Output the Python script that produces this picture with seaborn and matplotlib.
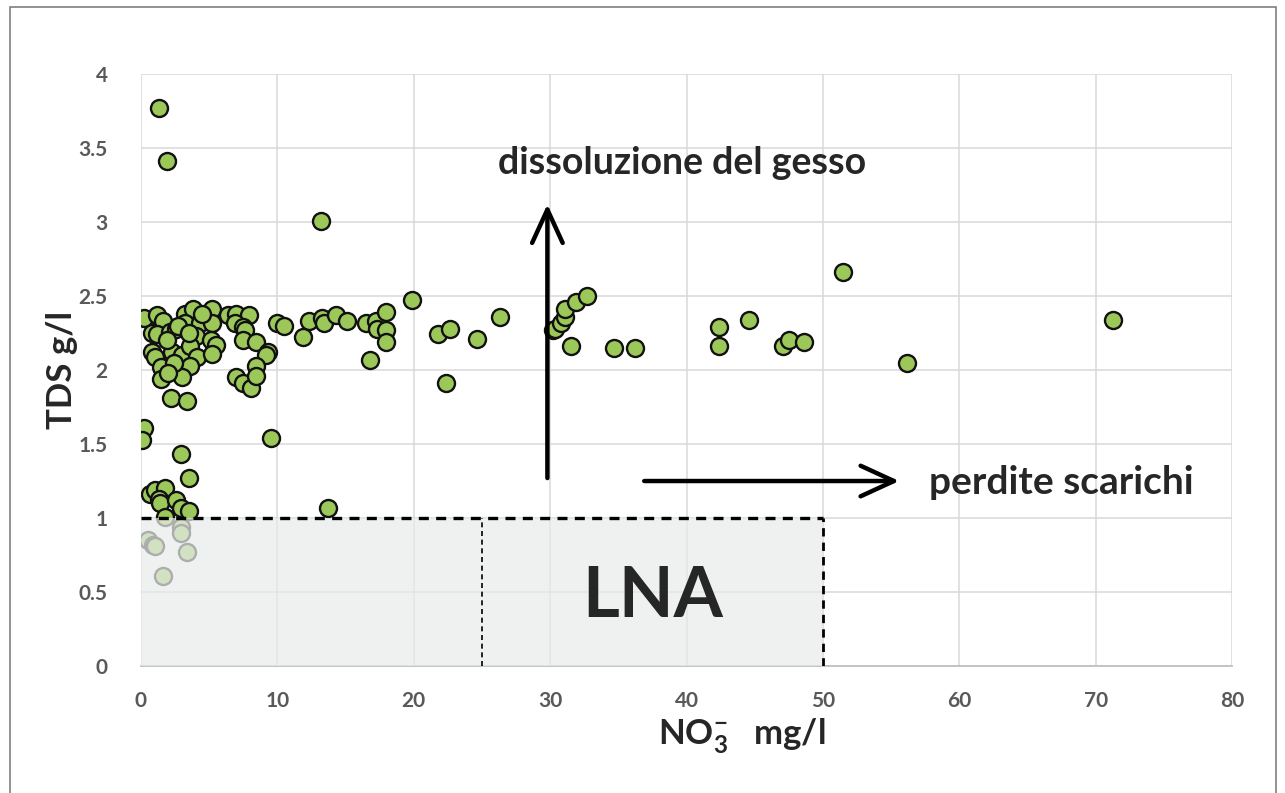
import numpy as np
import pandas as pd
import matplotlib
matplotlib.use("Agg")
import matplotlib.pyplot as plt
import seaborn as sns
from matplotlib.patches import Rectangle

# NO3 (mg/l) vs TDS (g/l)
no3 = [
    # dense cluster near the origin
    0.25, 1.2, 1.6, 0.8, 1.2, 2.1, 2.6, 3.2, 3.8, 3.2, 4.3, 5.2, 5.2, 4.0, 5.1,
    5.5, 0.8, 1.05, 2.25, 3.0, 3.6, 4.1, 5.2, 1.5, 2.9, 3.6, 1.5, 3.0, 2.2, 3.4,
    2.7, 1.9, 3.5, 2.4, 4.5, 2.0,
    # 6 - 20 mg/l
    6.4, 7.0, 7.9, 6.9, 7.5, 7.6, 7.5, 8.4, 9.3, 9.2, 8.4, 7.0, 7.5, 8.1, 8.4,
    9.95, 10.5, 12.3, 11.9, 13.3, 13.4, 14.3, 15.1, 16.5, 17.2, 17.3, 18.0, 18.0,
    18.0, 16.8, 19.85, 13.2,
    # > 20 mg/l
    21.8, 22.65, 24.65, 26.3, 22.4, 30.2, 30.35, 30.8, 31.1, 31.1, 31.9, 32.7,
    31.5, 34.7, 36.2, 42.4, 42.4, 44.6, 47.1, 47.5, 48.6, 51.5, 56.2, 71.3,
    # low TDS
    0.2, 0.1, 9.5, 2.9, 3.5, 0.65, 1.0, 1.75, 1.3, 1.4, 2.6, 2.9, 3.5, 1.75,
    13.7, 2.9, 2.9, 0.55, 0.9, 1.05, 3.4, 1.65,
    # high TDS outliers
    1.3, 1.9,
]
tds = [
    2.35, 2.37, 2.33, 2.25, 2.24, 2.26, 2.28, 2.38, 2.41, 2.32, 2.32, 2.41, 2.32,
    2.23, 2.20, 2.17, 2.12, 2.09, 2.12, 2.10, 2.16, 2.09, 2.11, 2.02, 2.01, 2.03,
    1.94, 1.95, 1.81, 1.79, 2.30, 2.20, 2.25, 2.05, 2.38, 1.98,
    2.37, 2.38, 2.37, 2.32, 2.29, 2.27, 2.20, 2.19, 2.12, 2.10, 2.03, 1.95, 1.91,
    1.88, 1.96, 2.32, 2.30, 2.33, 2.22, 2.35, 2.32, 2.37, 2.33, 2.32, 2.33, 2.28,
    2.27, 2.39, 2.19, 2.07, 2.47, 3.01,
    2.24, 2.28, 2.21, 2.36, 1.91, 2.27, 2.28, 2.32, 2.36, 2.41, 2.46, 2.50, 2.16,
    2.15, 2.15, 2.29, 2.16, 2.34, 2.16, 2.20, 2.19, 2.66, 2.05, 2.34,
    1.61, 1.53, 1.54, 1.43, 1.27, 1.16, 1.19, 1.20, 1.13, 1.10, 1.12, 1.07, 1.05,
    1.01, 1.07, 0.94, 0.90, 0.85, 0.82, 0.81, 0.77, 0.61,
    3.77, 3.41,
]

x_ticks = [0, 10, 20, 30, 40, 50, 60, 70, 80]
y_ticks = [0, 0.5, 1, 1.5, 2, 2.5, 3, 3.5, 4]
y_tick_labels = ["0", "0.5", "1", "1.5", "2", "2.5", "3", "3.5", "4"]

df = pd.DataFrame({"no3": no3, "tds": tds})

sns.set_theme(style="whitegrid")
plt.rcParams["font.family"] = ["Lato", "DejaVu Sans"]
plt.rcParams["mathtext.fontset"] = "custom"
plt.rcParams["mathtext.bf"] = "Lato:bold"
plt.rcParams["mathtext.rm"] = "Lato:bold"
plt.rcParams["mathtext.default"] = "bf"

fig = plt.figure(figsize=(12.85, 7.93), dpi=100)
fig.patch.set_facecolor("white")
ax = fig.add_axes([0.1097, 0.1601, 0.8491, 0.7466])
ax.set_facecolor("white")

sns.scatterplot(data=df, x="no3", y="tds", ax=ax, s=150, color="#9cc85a",
                edgecolor="#111111", linewidth=1.7, zorder=3, legend=False)

# LNA box (drawn over the points, as in the original)
ax.add_patch(Rectangle((0, 0), 50, 1, facecolor="#e9ecec", edgecolor="none",
                       alpha=0.72, zorder=4))
ax.plot([0, 50], [1, 1], color="black", ls=(0, (3, 2.2)), lw=2.4, zorder=5)
ax.plot([50, 50], [0, 1], color="black", ls=(0, (3, 2.2)), lw=2.0, zorder=5)
ax.plot([25, 25], [0, 1], color="black", ls=(0, (3, 2.2)), lw=1.2, zorder=5)
ax.text(37.5, 0.47, "LNA", fontsize=51, fontweight="bold", ha="center",
        va="center", zorder=6)

# arrows and notes
ax.annotate("", xy=(29.8, 3.12), xytext=(29.8, 1.27),
            arrowprops=dict(arrowstyle="->,head_length=1.2,head_width=0.55",
                            lw=3.2, color="black", mutation_scale=20,
                            shrinkA=0, shrinkB=0), zorder=6)
ax.annotate("", xy=(55.6, 1.25), xytext=(36.9, 1.25),
            arrowprops=dict(arrowstyle="->,head_length=1.2,head_width=0.55",
                            lw=3.2, color="black", mutation_scale=20,
                            shrinkA=0, shrinkB=0), zorder=6)
ax.text(26.2, 3.40, "dissoluzione del gesso", fontsize=27, fontweight="bold",
        ha="left", va="center", zorder=6)
ax.text(57.8, 1.24, "perdite scarichi", fontsize=28, fontweight="bold",
        ha="left", va="center", zorder=6)

ax.set_xlim(0, 80)
ax.set_ylim(0, 4)
ax.set_xticks(x_ticks)
ax.set_yticks(y_ticks)
ax.set_yticklabels(y_tick_labels)
ax.grid(True, color="#d9d9d9", lw=1.1)
ax.tick_params(axis="both", length=0, labelsize=15, labelcolor="#595959")
ax.tick_params(axis="y", pad=24)
ax.tick_params(axis="x", pad=18)
for lab in ax.get_xticklabels() + ax.get_yticklabels():
    lab.set_fontweight("bold")
for side in ["top", "right", "left"]:
    ax.spines[side].set_visible(False)
ax.spines["bottom"].set_color("#bfbfbf")
ax.spines["bottom"].set_linewidth(1.3)

ax.set_xlabel(r"NO$_3^{-}$   mg/l", fontsize=25, fontweight="bold")
ax.xaxis.set_label_coords((742 - 141) / 1091, -0.085)
ax.set_ylabel("TDS g/l", fontsize=25, fontweight="bold")
ax.yaxis.set_label_coords(-0.058, 0.5)

# outer frame of the figure
fig.patches.append(Rectangle((10 / 1285, -0.02), 1266 / 1285, 1.02 - 7 / 793,
                             transform=fig.transFigure, fill=False,
                             edgecolor="#7f7f7f", lw=1.2))

fig.savefig("out.png", dpi=100)
